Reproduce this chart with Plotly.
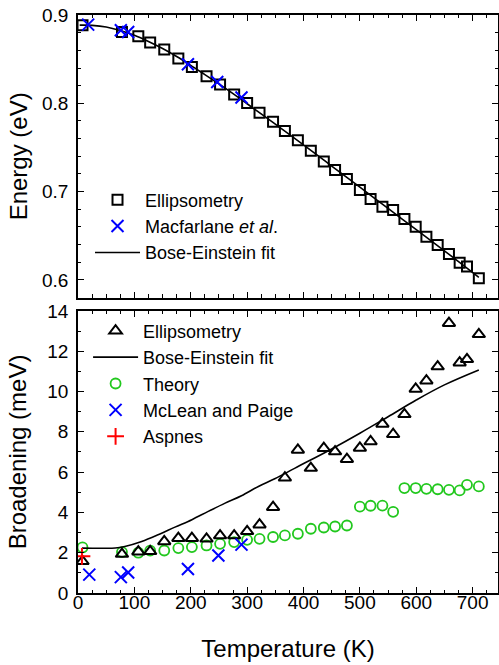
import plotly.graph_objects as go

# ---------------- data ----------------
T_ell = [8, 78, 107, 128, 153, 178, 202, 228, 252, 277, 300, 322, 346, 367, 390, 413,
         436, 456, 477, 500, 519, 540, 559, 579, 599, 618, 638, 658, 677, 690, 711]
E_ell = [0.8884, 0.8808, 0.8759, 0.8688, 0.8608, 0.8507, 0.8412, 0.8307, 0.8213, 0.8100,
         0.8005, 0.7892, 0.7790, 0.7688, 0.7583, 0.7462, 0.7342, 0.7244, 0.7142, 0.7018,
         0.6916, 0.6829, 0.6792, 0.6690, 0.6603, 0.6490, 0.6396, 0.6294, 0.6196, 0.6152, 0.6019]

T_mac = [18, 76, 89, 195, 247, 290]
E_mac = [0.8891, 0.8827, 0.8808, 0.8442, 0.8242, 0.8066]

T_fitE = [3, 25, 50, 75, 100, 125, 150, 175, 200, 225, 250, 275, 300, 350, 400, 450,
          500, 550, 600, 650, 711]
E_fit = [0.8885, 0.8883, 0.8865, 0.8825, 0.8770, 0.8700, 0.8620, 0.8530, 0.8430, 0.8325,
         0.8220, 0.8110, 0.7995, 0.7765, 0.7530, 0.7290, 0.7050, 0.6810, 0.6570, 0.6330, 0.6030]

B_ell = [1.57, 1.93, 2.05, 2.07, 2.56, 2.72, 2.72, 2.69, 2.85, 2.85, 3.06, 3.39, 4.26, 5.72,
         7.10, 6.20, 7.19, 7.02, 6.64, 7.20, 7.52, 8.39, 7.88, 8.87, 10.13, 10.54, 11.24,
         13.39, 11.43, 11.60, 12.84]

B_theory = [2.26, 2.03, 2.00, 2.10, 2.11, 2.23, 2.28, 2.36, 2.44, 2.53, 2.64, 2.69, 2.78,
            2.86, 2.94, 3.19, 3.25, 3.30, 3.35, 4.29, 4.33, 4.34, 4.03, 5.21, 5.21, 5.17,
            5.15, 5.12, 5.09, 5.37, 5.29]

T_fitB = [7, 40, 66, 83, 113, 142, 172, 202, 231, 261, 290, 320, 349, 385, 450, 500,
          550, 600, 650, 711]
B_fit = [2.23, 2.22, 2.23, 2.31, 2.56, 2.89, 3.27, 3.64, 4.05, 4.46, 4.83, 5.29, 5.67,
         6.20, 7.15, 7.93, 8.75, 9.58, 10.33, 11.07]

T_mcl = [20, 76, 89, 195, 249, 290]
B_mcl = [0.91, 0.79, 1.02, 1.19, 1.86, 2.40]

T_asp = [7]
B_asp = [1.82]

x_ticks = [0, 100, 200, 300, 400, 500, 600, 700]
yE_ticks = [0.6, 0.7, 0.8, 0.9]
yB_ticks = [0, 2, 4, 6, 8, 10, 12, 14]

# ---------------- figure ----------------
FONT = "Liberation Sans, Arial, sans-serif"
GREEN = "#22c81e"

fig = go.Figure()

# top panel
fig.add_trace(go.Scatter(x=T_fitE, y=E_fit, mode="lines", name="Bose-Einstein fit",
                         line=dict(color="black", width=1.6, shape="spline"), legend="legend",
                         legendrank=3, xaxis="x", yaxis="y"))
fig.add_trace(go.Scatter(x=T_ell, y=E_ell, mode="markers", name="Ellipsometry",
                         marker=dict(symbol="square-open", size=10, color="black",
                                     line=dict(width=2)),
                         legend="legend", legendrank=1, xaxis="x", yaxis="y"))
fig.add_trace(go.Scatter(x=T_mac, y=E_mac, mode="markers", name="Macfarlane <i>et al</i>.",
                         marker=dict(symbol="x-thin", size=12, color="blue",
                                     line=dict(width=2, color="blue")),
                         legend="legend", legendrank=2, xaxis="x", yaxis="y"))

# bottom panel
fig.add_trace(go.Scatter(x=T_ell, y=B_theory, mode="markers", name="Theory",
                         marker=dict(symbol="circle-open", size=10, color=GREEN,
                                     line=dict(width=1.8)),
                         legend="legend2", legendrank=3, xaxis="x2", yaxis="y2"))
fig.add_trace(go.Scatter(x=T_fitB, y=B_fit, mode="lines", name="Bose-Einstein fit",
                         line=dict(color="black", width=1.6, shape="spline"),
                         legend="legend2", legendrank=2, xaxis="x2", yaxis="y2"))
fig.add_trace(go.Scatter(x=T_ell, y=B_ell, mode="markers", name="Ellipsometry",
                         marker=dict(symbol="triangle-up-open", size=11, color="black",
                                     line=dict(width=2)),
                         legend="legend2", legendrank=1, xaxis="x2", yaxis="y2"))
fig.add_trace(go.Scatter(x=T_mcl, y=B_mcl, mode="markers", name="McLean and Paige",
                         marker=dict(symbol="x-thin", size=12, color="blue",
                                     line=dict(width=2, color="blue")),
                         legend="legend2", legendrank=4, xaxis="x2", yaxis="y2"))
fig.add_trace(go.Scatter(x=T_asp, y=B_asp, mode="markers", name="Aspnes",
                         marker=dict(symbol="cross-thin", size=12, color="red",
                                     line=dict(width=2, color="red")),
                         legend="legend2", legendrank=5, xaxis="x2", yaxis="y2"))

axis_common = dict(showline=True, linecolor="black", linewidth=1.5, mirror="ticks",
                   ticks="inside", ticklen=6, tickwidth=1.3, tickcolor="black",
                   showgrid=False, zeroline=False, automargin=False,
                   ticklabeloverflow="allow",
                   tickfont=dict(family=FONT, size=19, color="black"))
minor_common = dict(ticks="inside", ticklen=3.5, tickwidth=1.2, tickcolor="black")
TITLE_FONT = dict(family=FONT, size=24, color="black")
LEG_FONT = dict(family=FONT, size=18, color="black")

fig.update_layout(
    width=499, height=665,
    margin=dict(l=78, r=1, t=15, b=72),
    paper_bgcolor="white", plot_bgcolor="white",
    font=dict(family=FONT, color="black"),
    xaxis=dict(axis_common, domain=[0, 1], range=[0, 745], tickvals=x_ticks,
               showticklabels=False, anchor="y",
               minor=dict(minor_common, dtick=25)),
    yaxis=dict(axis_common, domain=[0.511, 1], range=[0.58, 0.9], tickvals=yE_ticks,
               ticktext=["0.6", "0.7", "0.8", "0.9"], anchor="x", ticklabelstandoff=4,
               title=dict(text="Energy (eV)", font=TITLE_FONT, standoff=8),
               minor=dict(minor_common, dtick=0.02, tick0=0.6)),
    xaxis2=dict(axis_common, domain=[0, 1], range=[0, 745], tickvals=x_ticks, anchor="y2",
                ticklabelstandoff=-9,
                title=dict(text="Temperature (K)", font=TITLE_FONT, standoff=29),
                minor=dict(minor_common, dtick=25)),
    yaxis2=dict(axis_common, domain=[0, 0.488], range=[0, 14], tickvals=yB_ticks, anchor="x2",
                ticklabelstandoff=4,
                title=dict(text="Broadening (meV)", font=TITLE_FONT, standoff=14),
                minor=dict(minor_common, dtick=1)),
    legend=dict(x=0.0286, y=0.712, xref="paper", yref="paper", xanchor="left", yanchor="top",
                bgcolor="rgba(0,0,0,0)", font=LEG_FONT,
                itemwidth=45, tracegroupgap=0, traceorder="normal"),
    legend2=dict(x=0.024, y=0.4853, xref="paper", yref="paper", xanchor="left", yanchor="top",
                 bgcolor="rgba(0,0,0,0)", font=LEG_FONT,
                 itemwidth=45, tracegroupgap=0, traceorder="normal"),
    showlegend=True,
)

# remove the default page margin so the figure sits at the window's top-left corner
fig.write_html("out.html", config={"displayModeBar": False},
               post_script="document.body.style.margin='0';")
